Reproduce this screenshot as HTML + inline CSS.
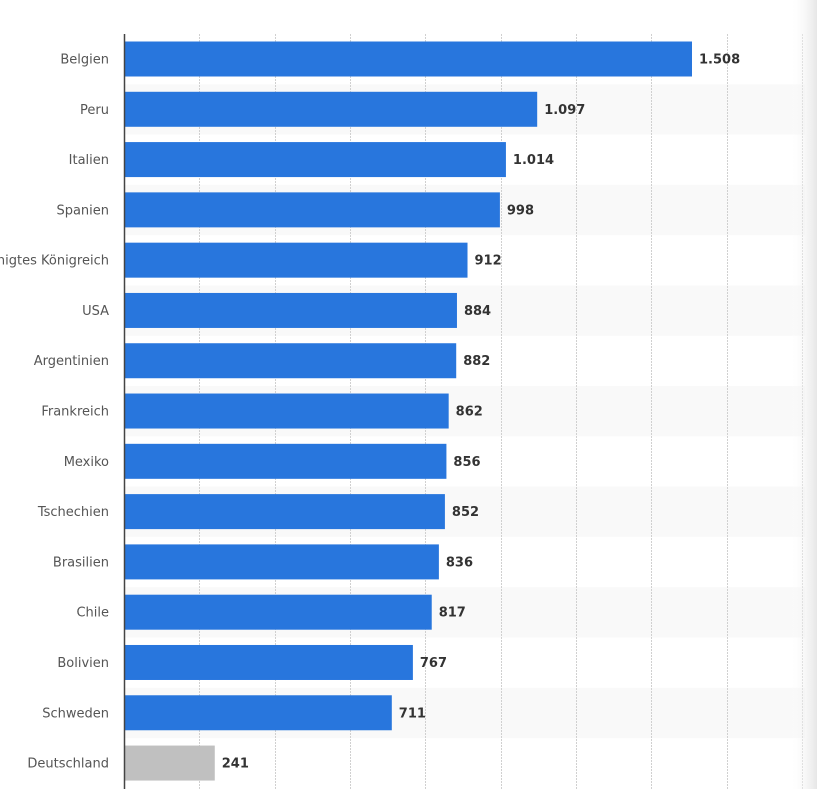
<!DOCTYPE html>
<html><head><meta charset="utf-8"><style>
body{margin:0;background:#fff;}
</style></head><body>
<svg width="817" height="789" xmlns="http://www.w3.org/2000/svg" style="display:block;font-family:'DejaVu Sans',sans-serif">
<defs><linearGradient id="sh" x1="0" x2="1"><stop offset="0" stop-color="#fff" stop-opacity="0"/><stop offset="1" stop-color="#e6e6e6"/></linearGradient></defs>
<g id="bands"></g>
<g id="grid"></g>
<g id="bars"></g>
<line x1="124.5" y1="34" x2="124.5" y2="789" stroke="#444" stroke-width="1.5"/>
<rect x="790" y="0" width="27" height="789" fill="url(#sh)"/>
<script>
var d=[["Belgien",1508,"1.508"],["Peru",1097,"1.097"],["Italien",1014,"1.014"],["Spanien",998,"998"],["Vereinigtes Königreich",912,"912"],["USA",884,"884"],["Argentinien",882,"882"],["Frankreich",862,"862"],["Mexiko",856,"856"],["Tschechien",852,"852"],["Brasilien",836,"836"],["Chile",817,"817"],["Bolivien",767,"767"],["Schweden",711,"711"],["Deutschland",241,"241"]];
var ns="http://www.w3.org/2000/svg";
function el(p,t,a,tx){var e=document.createElementNS(ns,t);for(var k in a)e.setAttribute(k,a[k]);if(tx)e.textContent=tx;document.getElementById(p).appendChild(e);}
var k=568/1508;
d.forEach(function(r,i){var c=59+50.29*i;
if(i%2==1)el("bands","rect",{x:125,y:c-25,width:680,height:50.3,fill:"#f9f9f9"});
var w=r[1]*k;
el("bars","rect",{x:125,y:c-17.5,width:w-1,height:35,fill:i==14?"#c0c0c0":"#2876dd"});
el("bars","text",{x:109,y:c+4.5,"text-anchor":"end","font-size":"13",fill:"#555"},r[0]);
el("bars","text",{x:124+w+7,y:c+4.5,"font-size":"13","font-weight":"bold",fill:"#333"},r[2]);
});
for(var j=1;j<=9;j++){var x=Math.round(124+75.35*j)+0.5;el("grid","line",{x1:x,y1:34,x2:x,y2:789,stroke:"#d0d0d0","stroke-dasharray":"2,1"});}
</script>
</svg>
</body></html>
